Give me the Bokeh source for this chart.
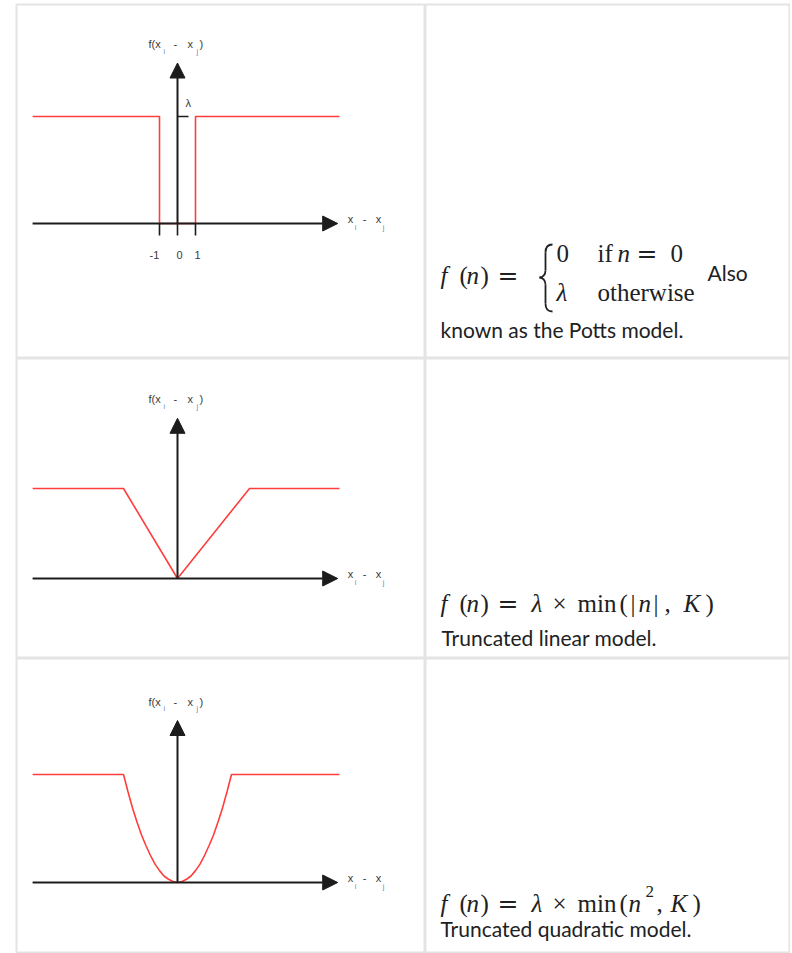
from bokeh.plotting import figure
from bokeh.models import Range1d, Label, Arrow, NormalHead, ColumnDataSource
from bokeh.layouts import column, row
from bokeh.embed import file_html
from bokeh.resources import INLINE

# ---------------- data ----------------
# Potts model (step)
potts_n = [-8.05, -1, -1, 1, 1, 9.0]
potts_f = [1, 1, 0, 0, 1, 1]
potts_ticks = [-1, 0, 1]
potts_tick_labels = ["-1", "0", "1"]
# Truncated linear model
linear_n = [-8.05, -3, 0, 4, 9.0]
linear_f = [1, 1, 0, 1, 1]
# Truncated quadratic model
quad_n = [-8.05, -3.0, -2.75, -2.5, -2.25, -2.0, -1.75, -1.5, -1.25, -1.0, -0.75, -0.5, -0.25, 0.0,
          0.25, 0.5, 0.75, 1.0, 1.25, 1.5, 1.75, 2.0, 2.25, 2.5, 2.75, 3.0, 9.0]
quad_f = [1.0, 1.0, 0.84, 0.69, 0.56, 0.44, 0.34, 0.25, 0.17, 0.11, 0.06, 0.03, 0.01, 0.0,
          0.01, 0.03, 0.06, 0.11, 0.17, 0.25, 0.34, 0.44, 0.56, 0.69, 0.84, 1.0, 1.0]
# axis extents (data units)
axis_x_start = -8.05
axis_x_end = 8.9
axis_y_tops = [1.5, 1.78, 1.5]

BORDER = "#e4e4e4"
RED = "#ff3d3d"
INK = "#1c1c1c"
TXT = "#202122"
LBL = "#3a3a3a"
SUB = "#5b7fb8"


def base_fig(w, h, xr, yr, left=0, top=0):
    p = figure(width=w, height=h, x_range=Range1d(*xr), y_range=Range1d(*yr),
               output_backend="svg", toolbar_location=None, title=None,
               x_axis_type=None, y_axis_type=None,
               min_border_left=left, min_border_right=0, min_border_top=top, min_border_bottom=0)
    p.grid.visible = False
    p.outline_line_color = BORDER
    p.outline_line_width = 2
    p.background_fill_color = "white"
    p.border_fill_color = "white"
    return p


def lab(p, x, y, text, dx=0, dy=0, size=11, font="Liberation Sans", style="normal",
        color=LBL, align="left", baseline="middle"):
    p.add_layout(Label(x=x, y=y, x_offset=dx, y_offset=dy, text=text, text_font=font,
                       text_font_size=f"{size}px", text_font_style=style, text_color=color,
                       text_align=align, text_baseline=baseline))


def plot_cell(h, yr, n, f, ytop, top=0, potts=False):
    p = base_fig(425, h, (-161 / 18, 248 / 18), yr, left=16, top=top)
    # axes with arrows
    p.add_layout(Arrow(end=NormalHead(size=15, fill_color=INK, line_color=INK, line_width=1),
                       x_start=axis_x_start, y_start=0, x_end=axis_x_end, y_end=0,
                       line_color=INK, line_width=2))
    p.add_layout(Arrow(end=NormalHead(size=15, fill_color=INK, line_color=INK, line_width=1),
                       x_start=0, y_start=0, x_end=0, y_end=ytop,
                       line_color=INK, line_width=2))
    # function
    p.line(n, f, line_color=RED, line_width=1.6)
    # axis labels
    for t, dx, dy, s, c in [("f(x", -29, 19, 11, LBL), ("i", -14, 12, 7, SUB), ("-", -4, 19, 11, LBL),
                            ("x", 10, 19, 11, LBL), ("j", 19, 12, 7, SUB), (")", 22, 19, 11, LBL)]:
        lab(p, 0, ytop, t, dx=dx, dy=dy, size=s, color=c)
    for t, dx, dy, s, c in [("x", 10, 5, 11, LBL), ("i", 17, -4, 7, SUB), ("-", 25, 5, 11, LBL),
                            ("x", 38, 5, 11, LBL), ("j", 45, -4, 7, SUB)]:
        lab(p, axis_x_end, 0, t, dx=dx, dy=dy, size=s, color=c)
    if potts:
        src = ColumnDataSource(dict(x=potts_ticks, y0=[0] * len(potts_ticks),
                                    y1=[-12 / 107] * len(potts_ticks), lab=potts_tick_labels,
                                    off=[-5 if s.startswith("-") else 2 for s in potts_tick_labels]))
        p.segment(x0="x", y0="y0", x1="x", y1="y1", source=src, line_color=INK, line_width=1.6)
        p.text(x="x", y="y0", text="lab", x_offset="off", y_offset=31, source=src,
               text_font_size="11px", text_color=LBL, text_align="center", text_baseline="middle")
        # lambda tick
        p.segment(x0=[0], y0=[1], x1=[11 / 18], y1=[1], line_color=INK, line_width=1.4)
        lab(p, 0, 1, "λ", dx=8, dy=14, size=11)
    return p


p1 = plot_cell(358, (-135 / 107, 219 / 107), potts_n, potts_f, axis_y_tops[0], top=4, potts=True)
p2 = plot_cell(300, (-80 / 90, 220 / 90), linear_n, linear_f, axis_y_tops[1])
p3 = plot_cell(295, (-71 / 108, 224 / 108), quad_n, quad_f, axis_y_tops[2])

SERIF = "Liberation Serif"
SANS = "Lato"
FS = 25


def math(p, pieces, base):
    for t, x, style, *rest in pieces:
        size = rest[0] if rest else FS
        dy = rest[1] if len(rest) > 1 else 0
        font = "DejaVu Serif" if t == "=" else SERIF
        lab(p, x, base, t, dy=dy, size=size, font=font, style=style, color=TXT, baseline="alphabetic")


# Row 1 text cell
t1 = base_fig(365, 358, (425, 790), (358, 4), top=4)
math(t1, [("f", 440, "italic"), ("(", 459, "normal"), ("n", 466, "italic"), (")", 480, "normal"),
          ("=", 497, "normal")], 275)
math(t1, [("0", 556, "normal"), ("if", 597, "normal"), ("n", 617, "italic"), ("=", 636, "normal"),
          ("0", 670, "normal")], 253)
math(t1, [("λ", 556, "italic"), ("otherwise", 597, "normal")], 292)
# curly brace
bx0 = [552, 545, 545, 539, 545, 545]
by0 = [244, 252, 270, 277, 284, 303]
bx1 = [545, 545, 539, 545, 545, 552]
by1 = [252, 270, 277, 284, 303, 311]
bcx0 = [547.5, 545, 545, 542, 545, 545]
bcy0 = [244, 258, 274.5, 277, 290, 308]
bcx1 = [545, 545, 542, 545, 545, 547.5]
bcy1 = [247, 264, 277, 279.5, 297, 311]
t1.bezier(x0=bx0, y0=by0, x1=bx1, y1=by1, cx0=bcx0, cy0=bcy0, cx1=bcx1, cy1=bcy1,
          line_color=TXT, line_width=1.8)
lab(t1, 707, 272, "Also", size=21, font=SANS, color=TXT, baseline="alphabetic")
lab(t1, 440, 329, "known as the Potts model.", size=21, font=SANS, color=TXT, baseline="alphabetic")

# Row 2 text cell
t2 = base_fig(365, 300, (425, 790), (658, 358))
math(t2, [("f", 440, "italic"), ("(", 459, "normal"), ("n", 466, "italic"), (")", 480, "normal"),
          ("=", 497, "normal"), ("λ", 531, "italic"), ("×", 552, "normal"), ("min", 577, "normal"),
          ("(", 619, "normal"), ("|", 630, "normal"), ("n", 638, "italic"), ("|", 653, "normal"),
          (",", 664, "normal"), ("K", 683, "italic"), (")", 705, "normal")], 603)
lab(t2, 441, 637, "Truncated linear model.", size=21, font=SANS, color=TXT, baseline="alphabetic")

# Row 3 text cell
t3 = base_fig(365, 295, (425, 790), (953, 658))
math(t3, [("f", 440, "italic"), ("(", 459, "normal"), ("n", 466, "italic"), (")", 480, "normal"),
          ("=", 497, "normal"), ("λ", 531, "italic"), ("×", 552, "normal"), ("min", 577, "normal"),
          ("(", 619, "normal"), ("n", 628, "italic"), ("2", 645, "normal", 17, 12),
          (",", 656, "normal"), ("K", 670, "italic"), (")", 692, "normal")], 903)
lab(t3, 440, 928, "Truncated quadratic model.", size=21, font=SANS, color=TXT, baseline="alphabetic")

layout = column(row(p1, t1, spacing=0), row(p2, t2, spacing=0), row(p3, t3, spacing=0), spacing=0)

open("out.html", "w").write(file_html(layout, INLINE))
